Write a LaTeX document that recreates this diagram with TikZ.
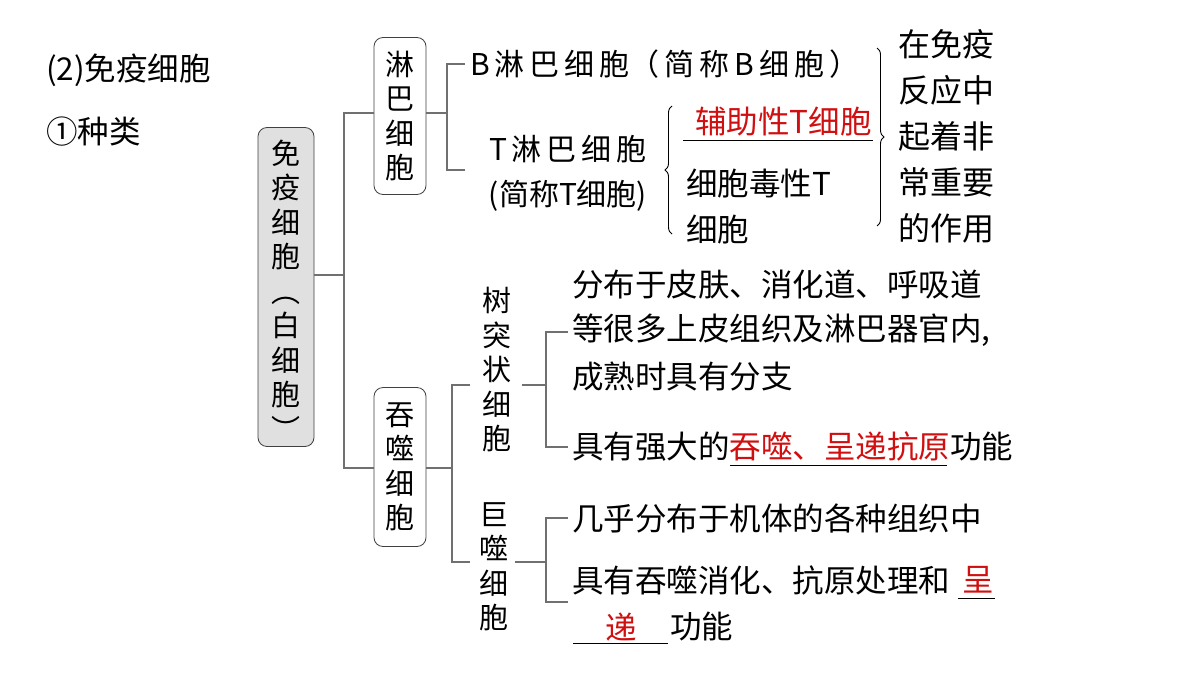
\documentclass[tikz,border=0pt]{standalone}
\usepackage{fontspec}
\setmainfont{Liberation Serif}
\newfontfamily\cjk{Noto Sans CJK SC}
\usetikzlibrary{decorations.pathreplacing}
\definecolor{ln}{HTML}{707070}
\definecolor{rd}{HTML}{D01010}
\begin{document}
\begin{tikzpicture}[x=1pt,y=-1pt,
  t/.style={inner sep=0pt,anchor=west,font=\cjk\fontsize{31.5}{34}\selectfont},
  v/.style={inner sep=0pt,align=center,font=\cjk\fontsize{29}{34.5}\selectfont},
  bx/.style={draw=black!75,line width=0.8pt,rounded corners=9pt},
  con/.style={draw=ln,line width=1.2pt},
  br/.style={draw=black,line width=0.9pt,decorate,decoration={brace,amplitude=7pt}}]
\useasboundingbox (0,0) rectangle (1200,675);
\node[t] (h1) at (46,70) {(2)免疫细胞};
\node[t] (h2) at (46,132) {①种类};
% main box
\node[bx,fill=black!12,minimum width=56pt,minimum height=319pt] (m) at (286,287) {};
\node[v] (mt) at (286,290) {免\\疫\\细\\胞\\︵\\白\\细\\胞\\︶};
\node[bx,minimum width=52pt,minimum height=157pt] (l) at (400,116) {};
\node[v] (lt) at (400,116) {淋\\巴\\细\\胞};
\node[bx,minimum width=52pt,minimum height=159pt] (p) at (400,467) {};
\node[v] (pt) at (400,467) {吞\\噬\\细\\胞};
\draw[con] (m.east) ++(0,-12) coordinate (m1) -- (344,275) coordinate (m2);
\draw[con] (l.west |- 0,113) coordinate (l0) -| (344,468) -- (p.west |- 0,468) coordinate (p0);
% lymph
\node[t,font=\cjk\fontsize{30}{34}\selectfont] (b) at (470,64) {B\,淋\,巴\,细\,胞（\,简\,称\,B\,细\,胞\,）};
\node[v,font=\cjk\fontsize{30}{45}\selectfont] (tt) at (568,173) {T\,淋\,巴\,细\,胞\\(简称T细胞)};
\draw[con] (l.east |- 0,113) coordinate (l1) -- (447,113);
\draw[con] (465,64) coordinate (b0) -| (447,170) -- (465,170) coordinate (t0);
\draw[br] (672,234) -- (672,106) coordinate (brl);
\node[t,text=rd] (h) at (695,122) {辅助性T细胞};
\draw[line width=1pt] (683,140) coordinate (u1) -- (873,140) coordinate (u2);
\node[t] (c1) at (686,184) {细胞毒性T};
\node[t] (c2) at (686,230) {细胞};
\draw[br] (877,48) -- (877,226) coordinate (brr);
\node[v,font=\cjk\fontsize{32}{46}\selectfont] (r) at (946,136) {在免疫\\反应中\\起着非\\常重要\\的作用};
% phagocytes
\draw[con] (p.east |- 0,468) coordinate (p1) -- (452,468);
\node[v] (d) at (497,370) {树\\突\\状\\细\\胞};
\node[v] (g) at (494,567) {巨\\噬\\细\\胞};
\draw[con] (470,385) coordinate (d0) -| (452,562) -- (470,562) coordinate (g0);
\draw[con] (522,385) coordinate (d1) -- (546,385);
\draw[con] (568,332) coordinate (e0) -| (546,447) -- (568,447) coordinate (e1);
\draw[con] (515,562) coordinate (g1) -- (546,562);
\draw[con] (568,518) coordinate (f0) -| (546,602) -- (568,602) coordinate (f1);
\node[t] (e1t) at (572,285) {分布于皮肤、消化道、呼吸道};
\node[t] (e2t) at (572,330) {等很多上皮组织及淋巴器官内,};
\node[t] (e3t) at (572,377) {成熟时具有分支};
\node[t] (e4t) at (572,447) {具有强大的\textcolor{rd}{吞噬、呈递抗原}功能};
\draw[line width=1pt] (730,465) coordinate (w1) -- (947,465) coordinate (w2);
\node[t] (f1t) at (572,518) {几乎分布于机体的各种组织中};
\node[t] (f2t) at (572,580) {具有吞噬消化、抗原处理和};
\node[t,text=rd] (f3t) at (962,580) {呈};
\draw[line width=1pt] (958,598) coordinate (z1) -- (995,598) coordinate (z2);
\node[t,text=rd] (f4t) at (605,627) {递};
\draw[line width=1pt] (573,643) coordinate (y1) -- (668,643) coordinate (y2);
\node[t] (f5t) at (670,627) {功能};
\end{tikzpicture}
\end{document}
